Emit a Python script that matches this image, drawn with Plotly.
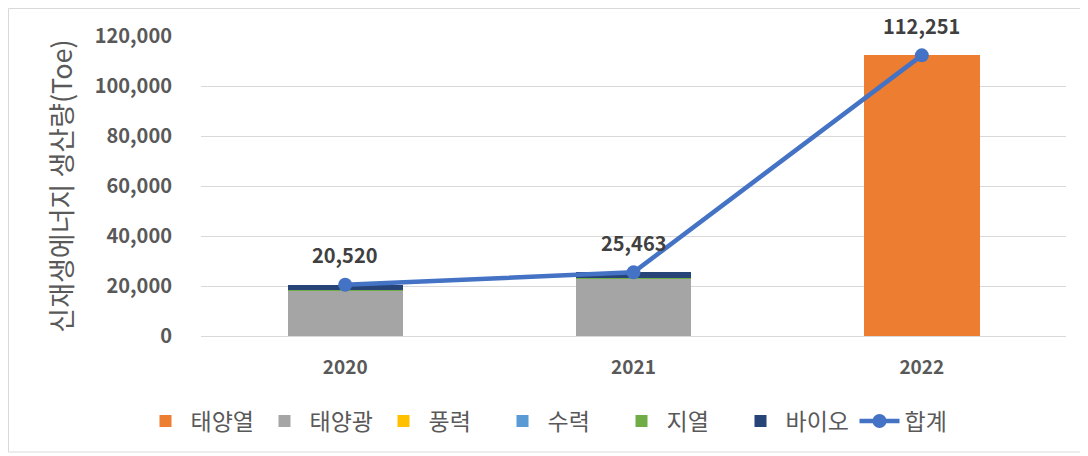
import plotly.graph_objects as go

years = ["2020", "2021", "2022"]
solar_thermal = [0, 0, 112251]       # 태양열
solar_pv = [18100, 23000, 0]         # 태양광
wind = [0, 0, 0]                     # 풍력
hydro = [0, 0, 0]                    # 수력
geothermal = [150, 150, 0]           # 지열
bio = [2270, 2313, 0]                # 바이오
total = [20520, 25463, 112251]       # 합계

series = [
    ("태양열", solar_thermal, "#ED7D31"),
    ("태양광", solar_pv, "#A5A5A5"),
    ("풍력", wind, "#FFC000"),
    ("수력", hydro, "#5B9BD5"),
    ("지열", geothermal, "#70AD47"),
    ("바이오", bio, "#264478"),
]

FONT = "Noto Sans CJK KR"

fig = go.Figure()
for name, vals, color in series:
    fig.add_trace(go.Bar(x=years, y=vals, name=name, marker=dict(color=color, line=dict(width=0))))

fig.add_trace(go.Scatter(
    x=years, y=total, name="합계", mode="lines+markers",
    line=dict(color="#4472C4", width=4.5),
    marker=dict(color="#4472C4", size=14),
))

# annotations on a category axis take the category's serial number
for i, v in enumerate(total):
    fig.add_annotation(x=i, y=v, text=f"<b>{v:,}</b>", showarrow=False,
                       yshift=30, font=dict(family=FONT, size=20, color="#404040"))

# page body has an 8px margin, so work in page pixels minus 8
OFF = 8
W, H = 1088 - OFF, 456 - OFF
L, R, T, B = 201 - OFF, 1088 - 1066, 36 - OFF, 456 - 336
pw, ph = W - L - R, H - T - B

def px_x(p):
    return (p - OFF - L) / pw

def px_y(p):
    return (H - B - (p - OFF)) / ph

fig.add_shape(type="rect", xref="paper", yref="paper",
              x0=px_x(8.5), x1=px_x(1083), y0=px_y(452), y1=px_y(8.5),
              line=dict(color="#D9D9D9", width=1), fillcolor="rgba(0,0,0,0)", layer="below")

fig.update_layout(
    width=W, height=H,
    margin=dict(l=L, r=R, t=T, b=B, autoexpand=False),
    barmode="stack", bargap=0.6,
    plot_bgcolor="white", paper_bgcolor="white",
    font=dict(family=FONT, color="#595959"),
    showlegend=True,
    legend=dict(orientation="h",
                xref="container", x=(557 - OFF) / W, xanchor="center",
                yref="paper", y=px_y(421), yanchor="middle",
                font=dict(family=FONT, size=23, color="#595959"), traceorder="normal",
                itemwidth=40, entrywidth=64, entrywidthmode="pixels"),
)
fig.update_xaxes(
    type="category",
    showgrid=False, showline=False, ticks="",
    tickfont=dict(family=FONT, size=19, color="#595959", weight="bold"),
    ticklabelstandoff=18,
)
fig.update_yaxes(
    range=[0, 120000], dtick=20000, tickformat=",d",
    showgrid=True, gridcolor="#D9D9D9", gridwidth=1,
    zeroline=True, zerolinecolor="#D9D9D9", zerolinewidth=1,
    showline=False, ticks="",
    tickfont=dict(family=FONT, size=20, color="#595959", weight="bold"),
    ticklabelstandoff=28,
    title=dict(text="신재생에너지 생산량(Toe)", standoff=14,
               font=dict(family=FONT, size=27, color="#595959")),
)

fig.write_html("out.html")
